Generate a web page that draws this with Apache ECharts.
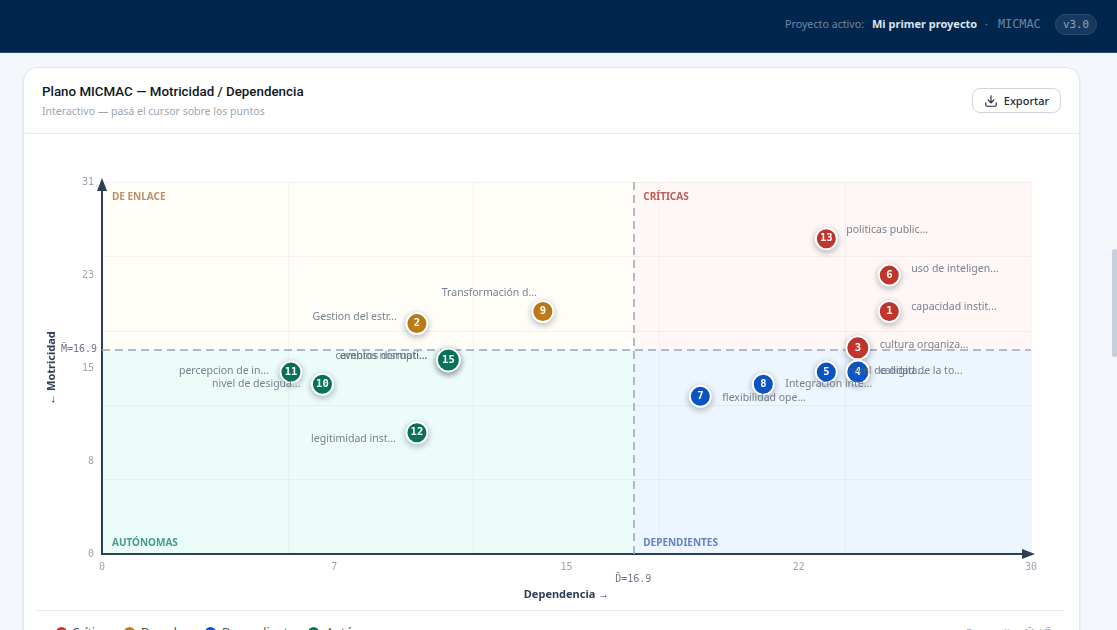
<!DOCTYPE html>
<html lang="es">
<head>
<meta charset="utf-8">
<title>Plano MICMAC</title>
<script src="https://cdn.jsdelivr.net/npm/echarts@6/dist/echarts.min.js"></script>
<style>
  * { box-sizing: border-box; }
  html, body { margin: 0; height: 100%; overflow: hidden; background: #f4f7fb; font-family: "Noto Sans", sans-serif; }
  .topbar { position: absolute; left: 0; top: 0; width: 100%; height: 53px; background: #00264d; border-bottom: 1px solid #2b4a6b; }
  .topbar span { position: absolute; top: 16px; font-size: 10.7px; line-height: 16px; color: #6e86a3; white-space: nowrap; }
  .topbar .project { left: 872px; font-size: 11px; font-weight: 700; color: #dbe4ee; }
  .topbar .mono { font-family: "DejaVu Sans Mono", monospace; font-size: 11.8px; }
  .topbar .pill { left: 1055px; top: 14px; width: 42px; height: 21px; line-height: 19px; text-align: center; border: 1px solid #2f4c6c; border-radius: 11px; background: #15395f; color: #8fa3ba; font-family: "DejaVu Sans Mono", monospace; font-size: 10.8px; }
  .card { position: absolute; left: 23px; top: 67px; width: 1057px; height: 600px; background: #fff; border: 1px solid #e3e8ee; border-radius: 14px; box-shadow: 0 1px 3px rgba(30,50,80,.08); }
  .title { position: absolute; left: 18px; top: 15px; font-family: Roboto, sans-serif; font-size: 13.35px; line-height: 18px; font-weight: 500; color: #0f1722; }
  .sub { position: absolute; left: 18px; top: 36px; font-size: 10.5px; line-height: 15px; color: #9aa5b4; }
  .head-rule { position: absolute; left: 0; right: 0; top: 65px; height: 1px; background: #e6eaef; }
  .export { position: absolute; left: 948px; top: 20px; width: 89px; height: 25px; border: 1px solid #cfd6df; border-radius: 8px; background: #fff; color: #1f2937; font: 500 11px "Noto Sans", sans-serif; display: flex; align-items: center; justify-content: center; gap: 6px; padding: 0; }
  .foot-rule { position: absolute; left: 13px; width: 1027px; top: 542px; height: 1px; background: #e6eaef; }
  #plano { position: absolute; left: 24px; top: 134px; width: 1056px; height: 476px; }
  .legend span { position: absolute; top: 625px; font-size: 12px; line-height: 16px; color: #4b5563; white-space: nowrap; }
  .legend i { position: absolute; top: 627px; width: 11px; height: 11px; border-radius: 50%; }
  .legend .note { left: 966px; font-size: 11px; color: #9aa5b4; }
  .thumb { position: absolute; left: 1112px; top: 249px; width: 5px; height: 108px; border-radius: 3px; background: #c5d0dc; }
</style>
</head>
<body>
<div class="topbar">
  <span style="left:785px">Proyecto activo:</span>
  <span class="project">Mi primer proyecto</span>
  <span style="left:985px">·</span>
  <span class="mono" style="left:998px">MICMAC</span>
  <span class="pill">v3.0</span>
</div>
<div class="card">
  <div class="title">Plano MICMAC — Motricidad / Dependencia</div>
  <div class="sub">Interactivo — pasá el cursor sobre los puntos</div>
  <div class="head-rule"></div>
  <button class="export">
    <svg width="14" height="14" viewBox="0 0 24 24" fill="none" stroke="#1f2937" stroke-width="2" stroke-linecap="round" stroke-linejoin="round"><path d="M21 15v4a2 2 0 0 1-2 2H5a2 2 0 0 1-2-2v-4"/><path d="M7 10l5 5 5-5"/><path d="M12 15V3"/></svg>
    Exportar
  </button>
  <div class="foot-rule"></div>
</div>
<div id="plano"></div>
<div class="legend">
  <i style="left:56px;background:#c8372d"></i><span style="left:72px">Críticas</span>
  <i style="left:124px;background:#c47f17"></i><span style="left:141px">De enlace</span>
  <i style="left:205px;background:#0b57c9"></i><span style="left:222px">Dependientes</span>
  <i style="left:308px;background:#08765a"></i><span style="left:326px">Autónomas</span>
  <span class="note">Promedios M̄ / D̄</span>
</div>
<div class="thumb"></div>
<script>
const nodeIds = [1, 2, 3, 4, 5, 6, 7, 8, 9, 10, 11, 12, 13, 14, 15];
const nodeNames = [
  "capacidad instit...", "Gestion del estr...", "cultura organiza...", "calidad de la to...",
  "nivel de digita...", "uso de inteligen...", "flexibilidad ope...", "Integracion inte...",
  "Transformación d...", "nivel de desigua...", "percepcion de in...", "legitimidad inst...",
  "politicas public...", "cambios normati...", "eventos disrupti..."
];
const dependencia = [25, 10, 24, 24, 23, 25, 19, 21, 14, 7, 6, 10, 23, 11, 11];
const motricidad = [20, 19, 17, 15, 15, 23, 13, 14, 20, 14, 15, 10, 26, 16, 16];
const mediaD = 16.87;
const mediaM = 16.87;
const xMax = 29.5;
const yMax = 30.68;
const xTickLabels = [0, 7, 15, 22, 30];
const yTickLabels = [0, 8, 15, 23, 31];

// label nudges per node: [dx, dy], left side when dx < 0
const labelNudge = {
  1: [22, -4], 2: [-20, -7], 3: [22, -3], 4: [22, -1], 5: [22, -1], 6: [22, -6], 7: [22, 2], 8: [22, 0],
  9: [-6, -18], 10: [-22, 0], 11: [-22, -1], 12: [-21, 6], 13: [20, -9], 14: [-21, -4], 15: [-21, -4]
};
const bigNodes = [3, 4, 15];
const coveredNodes = [14]; // sits exactly under 15

const groups = [
  { name: "Críticas", color: "#c8372d", test: (d, m) => d > mediaD && m > mediaM },
  { name: "De enlace", color: "#c47f17", test: (d, m) => d <= mediaD && m > mediaM },
  { name: "Dependientes", color: "#0b57c9", test: (d, m) => d > mediaD && m <= mediaM },
  { name: "Autónomas", color: "#08765a", test: (d, m) => d <= mediaD && m <= mediaM }
];

const MONO = '"DejaVu Sans Mono", monospace';
const SANS = '"Noto Sans", sans-serif';
const AXIS = "#2d3f55";

function zone(x0, y0, x1, y1, color, text, textColor, position) {
  return [
    {
      xAxis: x0,
      yAxis: y0,
      itemStyle: { color },
      label: {
        show: true,
        formatter: text,
        position,
        distance: 10,
        offset: position === "insideBottomLeft" ? [0, 4] : [0, 0],
        color: textColor,
        fontFamily: SANS,
        fontSize: 10,
        fontWeight: 700
      }
    },
    { xAxis: x1, yAxis: y1 }
  ];
}

const zonesSeries = {
  type: "scatter",
  data: [],
  z: 0,
  silent: true,
  markArea: {
    silent: true,
    z: 0,
    data: [
      zone(0, mediaM, mediaD, yMax, "#fffdf8", "DE ENLACE", "#c08f68", "insideTopLeft"),
      zone(mediaD, mediaM, xMax, yMax, "#fff7f5", "CRÍTICAS", "#c25c56", "insideTopLeft"),
      zone(0, 0, mediaD, mediaM, "#ecfcf8", "AUTÓNOMAS", "#459f85", "insideBottomLeft"),
      zone(mediaD, 0, xMax, mediaM, "#edf6ff", "DEPENDIENTES", "#6683bf", "insideBottomLeft")
    ]
  },
  markLine: {
    silent: true,
    symbol: "none",
    animation: false,
    z: 2,
    lineStyle: { color: "#9aa5b8", type: [8, 5], width: 1.5 },
    label: { color: "#6b7686", fontFamily: MONO, fontSize: 10 },
    data: [
      { xAxis: mediaD, label: { formatter: "D̄=" + mediaD.toFixed(1), position: "start", distance: 20 } },
      { yAxis: mediaM, label: { formatter: "M̄=" + mediaM.toFixed(1), position: "start", distance: 5 } }
    ]
  }
};

const markerSeries = groups.map((group) => ({
  name: group.name,
  type: "scatter",
  z: 3,
  data: nodeIds
    .map((id, i) => ({ id, d: dependencia[i], m: motricidad[i] }))
    .filter((n) => group.test(n.d, n.m))
    .map((n) => ({
      value: [n.d, n.m, n.id],
      symbolSize: bigNodes.includes(n.id) ? 23 : 21,
      label: { show: !coveredNodes.includes(n.id) }
    })),
  itemStyle: {
    color: group.color,
    borderColor: "#fff",
    borderWidth: 2,
    opacity: 1,
    shadowBlur: 6,
    shadowOffsetY: 2,
    shadowColor: "rgba(15,30,50,.28)"
  },
  label: {
    show: true,
    position: "inside",
    formatter: (p) => p.value[2],
    color: "#fff",
    fontFamily: MONO,
    fontSize: 10.5,
    fontWeight: 700
  }
}));

const namesSeries = {
  type: "scatter",
  z: 4,
  silent: true,
  symbolSize: 0,
  data: nodeIds.map((id, i) => {
    const [dx, dy] = labelNudge[id];
    return {
      value: [dependencia[i], motricidad[i]],
      label: { position: dx < 0 ? "left" : "right", distance: 0, offset: [dx, dy], formatter: nodeNames[i] }
    };
  }),
  label: { show: true, color: "#566373", fontFamily: SANS, fontSize: 10.5 }
};

const chart = echarts.init(document.querySelector("#plano"));
const hidden = { axisLine: { show: false }, axisTick: { show: false }, axisLabel: { show: false } };
const gridLine = { show: true, lineStyle: { color: "rgba(40,60,80,.05)", width: 1 } };
const axisArrow = {
  show: true,
  onZero: false,
  symbol: ["none", "triangle"],
  symbolSize: [10, 13],
  symbolOffset: [0, -2.5],
  lineStyle: { color: AXIS, width: 2 }
};
const tickStyle = { color: "#9aa5b4", fontFamily: MONO, fontSize: 10, margin: 8 };
const nameStyle = { color: AXIS, fontFamily: SANS, fontSize: 11, fontWeight: 700 };

chart.setOption({
  animation: false,
  grid: { left: 78, right: 49, top: 48, bottom: 56 },
  xAxis: [
    {
      type: "value", min: 0, max: xMax, interval: xMax / 4, z: 1,
      name: "Dependencia →", nameLocation: "middle", nameGap: 35, nameTextStyle: nameStyle,
      axisLine: axisArrow, axisTick: { show: false }, splitLine: { show: false },
      axisLabel: { ...tickStyle, formatter: (v, i) => xTickLabels[i] }
    },
    { type: "value", min: 0, max: xMax, interval: xMax / 5, z: 1, position: "top", ...hidden, splitLine: gridLine }
  ],
  yAxis: [
    {
      type: "value", min: 0, max: yMax, interval: yMax / 4, z: 1,
      name: "← Motricidad", nameLocation: "middle", nameGap: 45, nameTextStyle: nameStyle,
      axisLine: axisArrow, axisTick: { show: false }, splitLine: { show: false },
      axisLabel: { ...tickStyle, padding: [4, 0, 0, 0], formatter: (v, i) => yTickLabels[i] }
    },
    { type: "value", min: 0, max: yMax, interval: yMax / 5, z: 1, position: "right", ...hidden, splitLine: gridLine }
  ],
  series: [zonesSeries, ...markerSeries, namesSeries]
});
</script>
</body>
</html>
